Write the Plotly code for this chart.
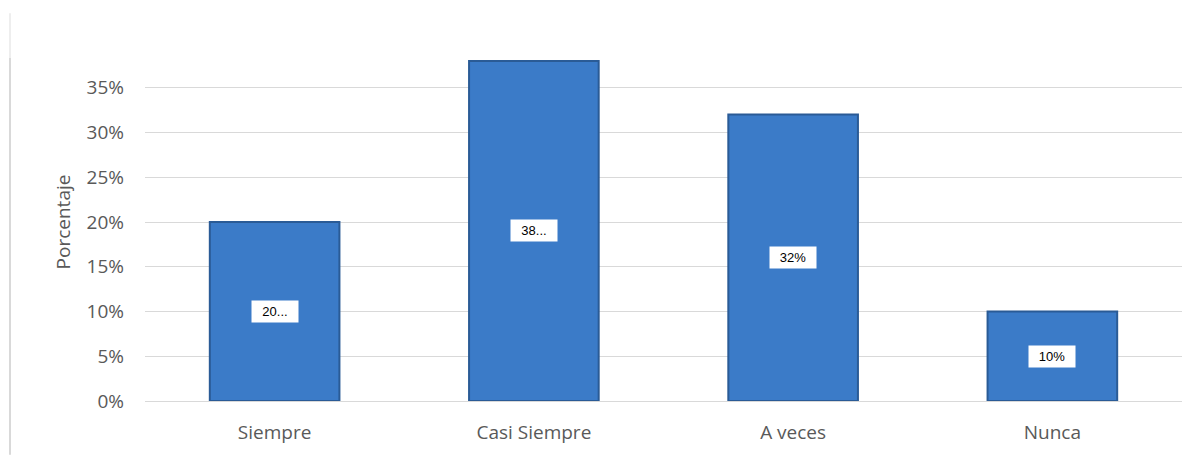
import plotly.graph_objects as go

categories = ["Siempre", "Casi Siempre", "A veces", "Nunca"]
values = [0.20, 0.38, 0.32, 0.10]
label_texts = ["20...", "38...", "32%", "10%"]
tick_vals = [0, 0.05, 0.10, 0.15, 0.20, 0.25, 0.30, 0.35]
tick_text = ["0%", "5%", "10%", "15%", "20%", "25%", "30%", "35%"]

W, H = 1190, 449
ml, mr, mt, mb = 137, 16, 35, 54
pw, ph = W - ml - mr, H - mt - mb

fig = go.Figure()
fig.add_trace(go.Bar(
    x=categories, y=values, width=0.5,
    marker=dict(color="#3b7bc8", line=dict(color="#2a5b96", width=2)),
    hoverinfo="skip",
))

for c, v, t in zip(categories, values, label_texts):
    fig.add_annotation(
        x=c, y=v / 2, text=t, showarrow=False,
        bgcolor="white", font=dict(family="Liberation Sans, Arial", size=13, color="black"),
        borderpad=3, width=40,
    )

# chart frame line on the left
lx = (2 - ml) / pw
fig.add_shape(type="line", xref="paper", yref="paper",
              x0=lx, x1=lx, y0=-mb / ph, y1=1 + (mt - 50) / ph,
              line=dict(color="#d9d9d9", width=2))
fig.add_shape(type="line", xref="paper", yref="paper",
              x0=lx, x1=lx, y0=1 + (mt - 50) / ph, y1=1 + (mt - 5) / ph,
              line=dict(color="#eeeeee", width=2))

fig.update_layout(
    width=W, height=H,
    margin=dict(l=ml, r=mr, t=mt, b=mb),
    paper_bgcolor="white", plot_bgcolor="white",
    showlegend=False,
    bargap=0.5,
    font=dict(family="Open Sans, Liberation Sans, Arial", color="#595959"),
    xaxis=dict(tickfont=dict(size=19, color="#595959"), showgrid=False,
               showline=False, ticks="", ticklabelstandoff=18),
    yaxis=dict(range=[0, 0.40], tickvals=tick_vals, ticktext=tick_text,
               tickfont=dict(size=19, color="#595959"),
               showgrid=True, gridcolor="#d9d9d9", gridwidth=1,
               zeroline=True, zerolinecolor="#d9d9d9", zerolinewidth=1,
               ticklabelstandoff=20,
               title=dict(text="Porcentaje", font=dict(size=19, color="#595959"), standoff=10),
               ticks="", ticklen=0),
)

fig.write_html("out.html")
